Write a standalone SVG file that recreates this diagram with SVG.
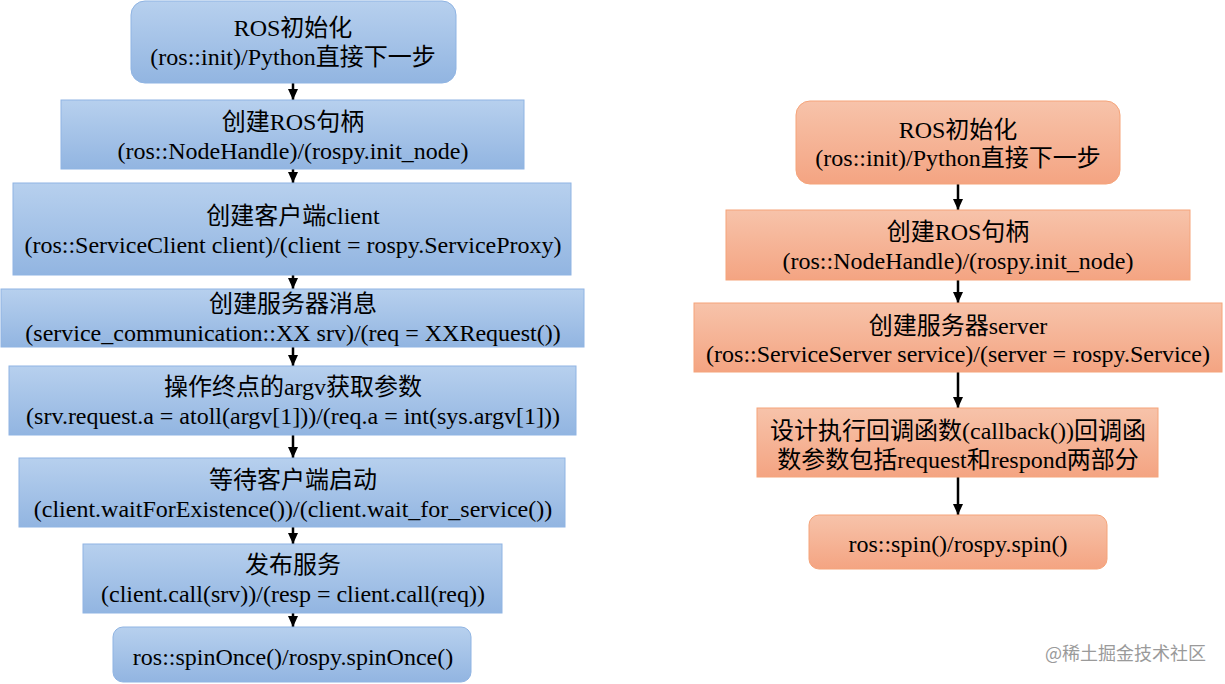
<svg xmlns="http://www.w3.org/2000/svg" width="1225" height="684" viewBox="0 0 1225 684">
<defs>
<linearGradient id="gb" x1="0" y1="0" x2="0" y2="1"><stop offset="0" stop-color="#b7d0ee"/><stop offset="1" stop-color="#92b5e1"/></linearGradient>
<linearGradient id="go" x1="0" y1="0" x2="0" y2="1"><stop offset="0" stop-color="#f7c3aa"/><stop offset="1" stop-color="#f4a482"/></linearGradient>
<marker id="ah" markerWidth="12" markerHeight="10" refX="11" refY="5" orient="auto" markerUnits="userSpaceOnUse"><path d="M0,0 L11,5 L0,10 Z" fill="#000"/></marker>
<style>
.b{fill:url(#gb);stroke:#8fb4e3;stroke-width:1}
.o{fill:url(#go);stroke:#f5a47a;stroke-width:1}
text{font-family:"Liberation Serif","Noto Sans CJK SC",serif;font-size:24px;fill:#000;text-anchor:middle}
.wm{font-family:"Noto Sans CJK SC","Liberation Sans",sans-serif;font-size:18px;fill:#9a9a9a;text-anchor:start}
.c{stroke:#000;stroke-width:2.5;fill:none;marker-end:url(#ah)}
</style>
</defs>
<g id="connectors">
<line class="c" x1="293" y1="83" x2="293" y2="100"/>
<line class="c" x1="293" y1="169" x2="293" y2="183"/>
<line class="c" x1="293" y1="275" x2="293" y2="289"/>
<line class="c" x1="293" y1="347" x2="293" y2="366"/>
<line class="c" x1="293" y1="435" x2="293" y2="458"/>
<line class="c" x1="293" y1="527" x2="293" y2="544"/>
<line class="c" x1="293" y1="613" x2="293" y2="627"/>
<line class="c" x1="958" y1="184" x2="958" y2="210"/>
<line class="c" x1="958" y1="280" x2="958" y2="303"/>
<line class="c" x1="958" y1="372" x2="958" y2="408"/>
<line class="c" x1="958" y1="477" x2="958" y2="515"/>
</g>
<g id="l1"><rect class="b" x="131" y="1" width="325" height="82" rx="14"/><text x="293" y="36">ROS初始化</text><text x="293" y="65">(ros::init)/Python直接下一步</text></g>
<g id="l2"><rect class="b" x="61" y="100" width="463" height="69"/><text x="293" y="130">创建ROS句柄</text><text x="293" y="159">(ros::NodeHandle)/(rospy.init_node)</text></g>
<g id="l3"><rect class="b" x="13" y="183" width="558" height="92"/><text x="293" y="224">创建客户端client</text><text x="293" y="253">(ros::ServiceClient client)/(client = rospy.ServiceProxy)</text></g>
<g id="l4"><rect class="b" x="1" y="289" width="583" height="58"/><text x="293" y="312">创建服务器消息</text><text x="293" y="341">(service_communication::XX srv)/(req = XXRequest())</text></g>
<g id="l5"><rect class="b" x="9" y="366" width="567" height="69"/><text x="293" y="395">操作终点的argv获取参数</text><text x="293" y="424">(srv.request.a = atoll(argv[1]))/(req.a = int(sys.argv[1]))</text></g>
<g id="l6"><rect class="b" x="19" y="458" width="546" height="69"/><text x="293" y="488">等待客户端启动</text><text x="293" y="517">(client.waitForExistence())/(client.wait_for_service())</text></g>
<g id="l7"><rect class="b" x="83" y="544" width="419" height="69"/><text x="293" y="573">发布服务</text><text x="293" y="602">(client.call(srv))/(resp = client.call(req))</text></g>
<g id="l8"><rect class="b" x="113" y="627" width="358" height="55" rx="10"/><text x="293" y="665">ros::spinOnce()/rospy.spinOnce()</text></g>
<g id="r1"><rect class="o" x="796" y="101" width="324" height="83" rx="14"/><text x="958" y="138">ROS初始化</text><text x="958" y="166">(ros::init)/Python直接下一步</text></g>
<g id="r2"><rect class="o" x="726" y="210" width="464" height="70"/><text x="958" y="240">创建ROS句柄</text><text x="958" y="269">(ros::NodeHandle)/(rospy.init_node)</text></g>
<g id="r3"><rect class="o" x="694" y="303" width="528" height="69"/><text x="958" y="334">创建服务器server</text><text x="958" y="362">(ros::ServiceServer service)/(server = rospy.Service)</text></g>
<g id="r4"><rect class="o" x="757" y="408" width="401" height="69"/><text x="958" y="439">设计执行回调函数(callback())回调函</text><text x="958" y="468">数参数包括request和respond两部分</text></g>
<g id="r5"><rect class="o" x="809" y="515" width="298" height="54" rx="10"/><text x="958" y="552">ros::spin()/rospy.spin()</text></g>
<text class="wm" x="1045" y="660">@稀土掘金技术社区</text>
</svg>
